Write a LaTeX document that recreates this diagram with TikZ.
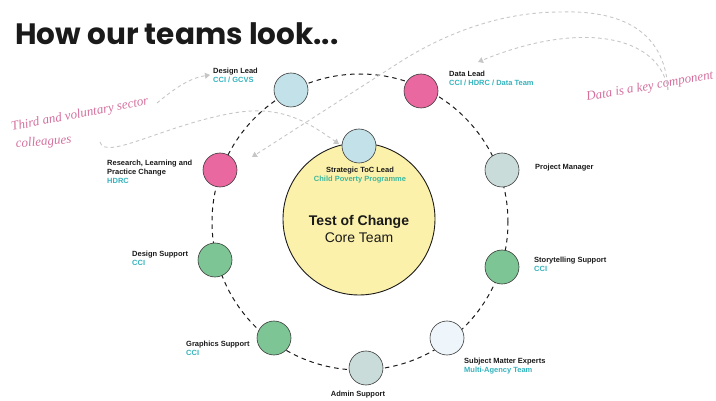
\documentclass[tikz,border=0pt]{standalone}
\usepackage{fontspec}
\setmainfont{Liberation Sans}
\newfontfamily\titlefont{Poppins}
\newfontfamily\handfont{Liberation Serif}
\usetikzlibrary{arrows.meta}

\definecolor{inkblack}{HTML}{1A1A1A}
\definecolor{edgegray}{HTML}{3A3A3A}
\definecolor{lblue}{HTML}{C2E1E8}
\definecolor{rosepink}{HTML}{E8689F}
\definecolor{greyblue}{HTML}{C9DCDA}
\definecolor{leafgreen}{HTML}{7DC595}
\definecolor{paleblue}{HTML}{EEF6FB}
\definecolor{coreyellow}{HTML}{FCF1AA}
\definecolor{tealtxt}{HTML}{34B3BD}
\definecolor{tealgreen}{HTML}{3CB89E}
\definecolor{handpink}{HTML}{D4709E}
\definecolor{notegray}{HTML}{C6C6C6}

\begin{document}
\begin{tikzpicture}[x=1pt,y=-1pt,
  member/.style={circle, draw=edgegray, line width=0.6pt, minimum size=34pt, inner sep=0pt},
  core/.style={circle, draw=inkblack, line width=0.9pt, fill=coreyellow, minimum size=152pt, inner sep=0pt},
  ringline/.style={circle, draw=inkblack, line width=1pt, dash pattern=on 4.5pt off 4pt, minimum size=296pt, inner sep=0pt},
  lbl/.style={anchor=north west, align=left, inner sep=0pt, text=inkblack,
    font=\fontsize{7.5}{9}\selectfont\bfseries},
  hand/.style={inner sep=0pt, anchor=base west, text=handpink,
    font=\handfont\itshape\fontsize{13}{15}\selectfont},
  note/.style={draw=notegray, line width=0.9pt, dash pattern=on 3.5pt off 3pt,
    -{Triangle[width=6pt,length=5pt]}}
]
\useasboundingbox (0,0) rectangle (716,401);

% heading
\node[anchor=base west, inner sep=0pt, text=inkblack,
  font=\titlefont\bfseries\fontsize{29.5}{30}\selectfont] (title) at (15,45) {How our teams look...};

% the dashed ring that links the team members
\node[ringline] (ring) at (360,222) {};

% handwritten notes and their pointers
\node[hand, rotate=11] (thirdT) at (12,131) {Third and voluntary sector};
\node[hand, rotate=5] (collT) at (16,148) {colleagues};
\node[hand, rotate=10] (dataT) at (587,101) {Data is a key component};

\coordinate (dataFrom) at (668,90);
\coordinate (dataTipA) at (252,157);
\coordinate (dataTipB) at (478,62);
\coordinate (sectorFrom) at (157,103);
\coordinate (sectorTip) at (210,75);
\coordinate (collFrom) at (100,142);
\coordinate (stratTip) at (339,144);

\draw[note] (dataFrom) .. controls (665,30) and (620,10) .. (560,12)
  .. controls (500,12) and (444,34) .. (400,62) -- (dataTipA);
\draw[note] (dataFrom) .. controls (660,35) and (580,20) .. (dataTipB);
\draw[note] (sectorFrom) .. controls (175,88) and (190,78) .. (sectorTip);
\draw[note] (collFrom) .. controls (105,162) and (170,122) .. (240,112)
  .. controls (285,106) and (312,125) .. (stratTip);

% core team
\node[core] (core) at (359,219) {};
\node[member, fill=lblue] (strategic) at (359,146) {};
\node[align=center, inner sep=0pt, text=inkblack, font=\fontsize{14}{17}\selectfont] (coreL) at (359,229)
  {\textbf{Test of Change}\\Core Team};
\node[anchor=north, align=center, inner sep=0pt, text=inkblack, font=\fontsize{7.5}{9}\selectfont\bfseries]
  (strategicL) at (360,167) {Strategic ToC Lead\\\textcolor{tealgreen}{Child Poverty Programme}};

% team members around the ring
\node[member, fill=lblue] (designlead) at (291,90) {};
\node[member, fill=rosepink] (datalead) at (421,91) {};
\node[member, fill=greyblue] (pm) at (502,170) {};
\node[member, fill=leafgreen] (story) at (502,267) {};
\node[member, fill=paleblue] (sme) at (447,338) {};
\node[member, fill=greyblue] (admin) at (366,368) {};
\node[member, fill=leafgreen] (graphics) at (274,338) {};
\node[member, fill=leafgreen] (dsupport) at (215,260) {};
\node[member, fill=rosepink] (research) at (220,170) {};

% their labels
\node[lbl] (designleadL) at (213,68) {Design Lead\\\textcolor{tealtxt}{CCI / GCVS}};
\node[lbl] (dataleadL) at (449,71) {Data Lead\\\textcolor{tealtxt}{CCI / HDRC / Data Team}};
\node[lbl] (pmL) at (535,164) {Project Manager};
\node[lbl] (storyL) at (534,257) {Storytelling Support\\\textcolor{tealtxt}{CCI}};
\node[lbl] (smeL) at (464,358) {Subject Matter Experts\\\textcolor{tealtxt}{Multi-Agency Team}};
\node[lbl, anchor=north] (adminL) at (358,391) {Admin Support};
\node[lbl] (graphicsL) at (186,341) {Graphics Support\\\textcolor{tealtxt}{CCI}};
\node[lbl] (dsupportL) at (132,251) {Design Support\\\textcolor{tealtxt}{CCI}};
\node[lbl] (researchL) at (107,160) {Research, Learning and\\Practice Change\\\textcolor{tealtxt}{HDRC}};
\end{tikzpicture}
\end{document}
